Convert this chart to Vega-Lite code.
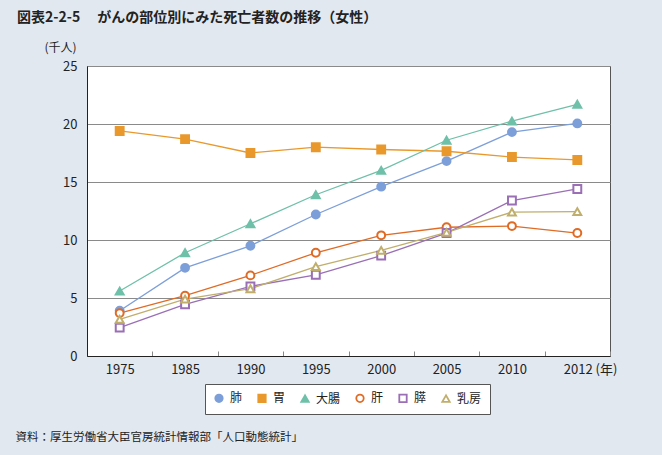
{
  "$schema": "https://vega.github.io/schema/vega-lite/v6.json",
  "autosize": {"type": "none"},
  "width": 523,
  "height": 290,
  "padding": {"left": 87, "top": 66, "right": 52, "bottom": 99},
  "background": "#e2e8f0",
  "title": {
    "text": "図表2-2-5　 がんの部位別にみた死亡者数の推移（女性）",
    "anchor": "start",
    "frame": "group",
    "dx": -70,
    "offset": 16,
    "fontSize": 14,
    "fontWeight": "bold",
    "color": "#222222"
  },
  "config": {
    "font": "Noto Sans CJK JP",
    "view": {"stroke": "#555555", "strokeWidth": 1, "fill": "white"}
  },
  "data": {
    "values": [
      {"year": "1975", "site": "肺", "value": 3.9},
      {"year": "1985", "site": "肺", "value": 7.6},
      {"year": "1990", "site": "肺", "value": 9.5},
      {"year": "1995", "site": "肺", "value": 12.2},
      {"year": "2000", "site": "肺", "value": 14.6},
      {"year": "2005", "site": "肺", "value": 16.8},
      {"year": "2010", "site": "肺", "value": 19.3},
      {"year": "2012", "site": "肺", "value": 20.05},
      {"year": "1975", "site": "胃", "value": 19.4},
      {"year": "1985", "site": "胃", "value": 18.7},
      {"year": "1990", "site": "胃", "value": 17.5},
      {"year": "1995", "site": "胃", "value": 18.0},
      {"year": "2000", "site": "胃", "value": 17.8},
      {"year": "2005", "site": "胃", "value": 17.65},
      {"year": "2010", "site": "胃", "value": 17.15},
      {"year": "2012", "site": "胃", "value": 16.9},
      {"year": "1975", "site": "大腸", "value": 5.6},
      {"year": "1985", "site": "大腸", "value": 8.9},
      {"year": "1990", "site": "大腸", "value": 11.4},
      {"year": "1995", "site": "大腸", "value": 13.9},
      {"year": "2000", "site": "大腸", "value": 16.0},
      {"year": "2005", "site": "大腸", "value": 18.6},
      {"year": "2010", "site": "大腸", "value": 20.25},
      {"year": "2012", "site": "大腸", "value": 21.7},
      {"year": "1975", "site": "肝", "value": 3.7},
      {"year": "1985", "site": "肝", "value": 5.2},
      {"year": "1990", "site": "肝", "value": 6.95},
      {"year": "1995", "site": "肝", "value": 8.9},
      {"year": "2000", "site": "肝", "value": 10.4},
      {"year": "2005", "site": "肝", "value": 11.1},
      {"year": "2010", "site": "肝", "value": 11.2},
      {"year": "2012", "site": "肝", "value": 10.6},
      {"year": "1975", "site": "膵", "value": 2.45},
      {"year": "1985", "site": "膵", "value": 4.45},
      {"year": "1990", "site": "膵", "value": 6.0},
      {"year": "1995", "site": "膵", "value": 7.0},
      {"year": "2000", "site": "膵", "value": 8.65},
      {"year": "2005", "site": "膵", "value": 10.6},
      {"year": "2010", "site": "膵", "value": 13.4},
      {"year": "2012", "site": "膵", "value": 14.4},
      {"year": "1975", "site": "乳房", "value": 3.15},
      {"year": "1985", "site": "乳房", "value": 4.9},
      {"year": "1990", "site": "乳房", "value": 5.8},
      {"year": "1995", "site": "乳房", "value": 7.7},
      {"year": "2000", "site": "乳房", "value": 9.1},
      {"year": "2005", "site": "乳房", "value": 10.65},
      {"year": "2010", "site": "乳房", "value": 12.4},
      {"year": "2012", "site": "乳房", "value": 12.45}
    ]
  },
  "encoding": {
    "x": {
      "field": "year",
      "type": "ordinal",
      "bandPosition": 0.5,
      "scale": {"type": "band", "paddingInner": 0, "paddingOuter": 0},
      "axis": {
        "title": "資料：厚生労働省大臣官房統計情報部「人口動態統計」",
        "titleX": -72,
        "titleY": 81,
        "titleAlign": "left",
        "titleBaseline": "middle",
        "titleFontSize": 11.5,
        "titleFontWeight": "normal",
        "titleColor": "#222222",
        "labelExpr": "datum.label == '2012' ? '2012 (年)' : datum.label",
        "labelAlign": {"condition": {"test": "datum.label == '2012'", "value": "left"}, "value": "center"},
        "labelOffset": {"condition": {"test": "datum.label == '2012'", "value": -14}, "value": 0},
        "labelAngle": 0,
        "labelFontSize": 13,
        "labelColor": "#222222",
        "labelPadding": 12,
        "domainColor": "#222222",
        "tickColor": "#888888",
        "tickSize": -5,
        "tickWidth": 1,
        "tickBand": "extent",
        "grid": false
      }
    },
    "y": {
      "field": "value",
      "type": "quantitative",
      "scale": {"domain": [0, 25]},
      "axis": {
        "values": [0, 5, 10, 15, 20, 25],
        "title": "(千人)",
        "titleAngle": 0,
        "titleX": -27,
        "titleY": -19,
        "titleAlign": "center",
        "titleBaseline": "middle",
        "titleFontSize": 12,
        "titleFontWeight": "normal",
        "titleColor": "#222222",
        "labelFontSize": 13,
        "labelColor": "#222222",
        "labelPadding": 10,
        "ticks": false,
        "domainColor": "#222222",
        "grid": true,
        "gridColor": "#8a8a8a",
        "gridWidth": 1
      }
    }
  },
  "layer": [
    {
      "mark": {"type": "line", "strokeWidth": 1.3},
      "encoding": {
        "stroke": {
          "field": "site",
          "type": "nominal",
          "title": null,
          "scale": {
            "domain": ["肺", "胃", "大腸", "肝", "膵", "乳房"],
            "range": ["#7d9fd9", "#e9992c", "#6fc0a8", "#e06b25", "#9a6fb6", "#c0ae6c"]
          }
        }
      }
    },
    {
      "mark": {"type": "point", "size": 62, "strokeWidth": 2, "opacity": 1},
      "encoding": {
        "stroke": {
          "field": "site",
          "type": "nominal",
          "title": null,
          "scale": {
            "domain": ["肺", "胃", "大腸", "肝", "膵", "乳房"],
            "range": ["#7d9fd9", "#e9992c", "#6fc0a8", "#e06b25", "#9a6fb6", "#c0ae6c"]
          },
          "legend": {
            "orient": "none",
            "legendX": 118,
            "legendY": 318,
            "direction": "horizontal",
            "fillColor": "white",
            "strokeColor": "#555555",
            "padding": 8,
            "labelFontSize": 12,
            "labelColor": "#222222",
            "symbolSize": 55,
            "symbolStrokeWidth": 1.8,
            "columnPadding": 11,
            "labelOffset": 5
          }
        },
        "fill": {
          "field": "site",
          "type": "nominal",
          "title": null,
          "scale": {
            "domain": ["肺", "胃", "大腸", "肝", "膵", "乳房"],
            "range": ["#7d9fd9", "#e9992c", "#6fc0a8", "white", "white", "white"]
          }
        },
        "shape": {
          "field": "site",
          "type": "nominal",
          "title": null,
          "scale": {
            "domain": ["肺", "胃", "大腸", "肝", "膵", "乳房"],
            "range": ["circle", "square", "triangle-up", "circle", "square", "triangle-up"]
          }
        }
      }
    }
  ]
}
